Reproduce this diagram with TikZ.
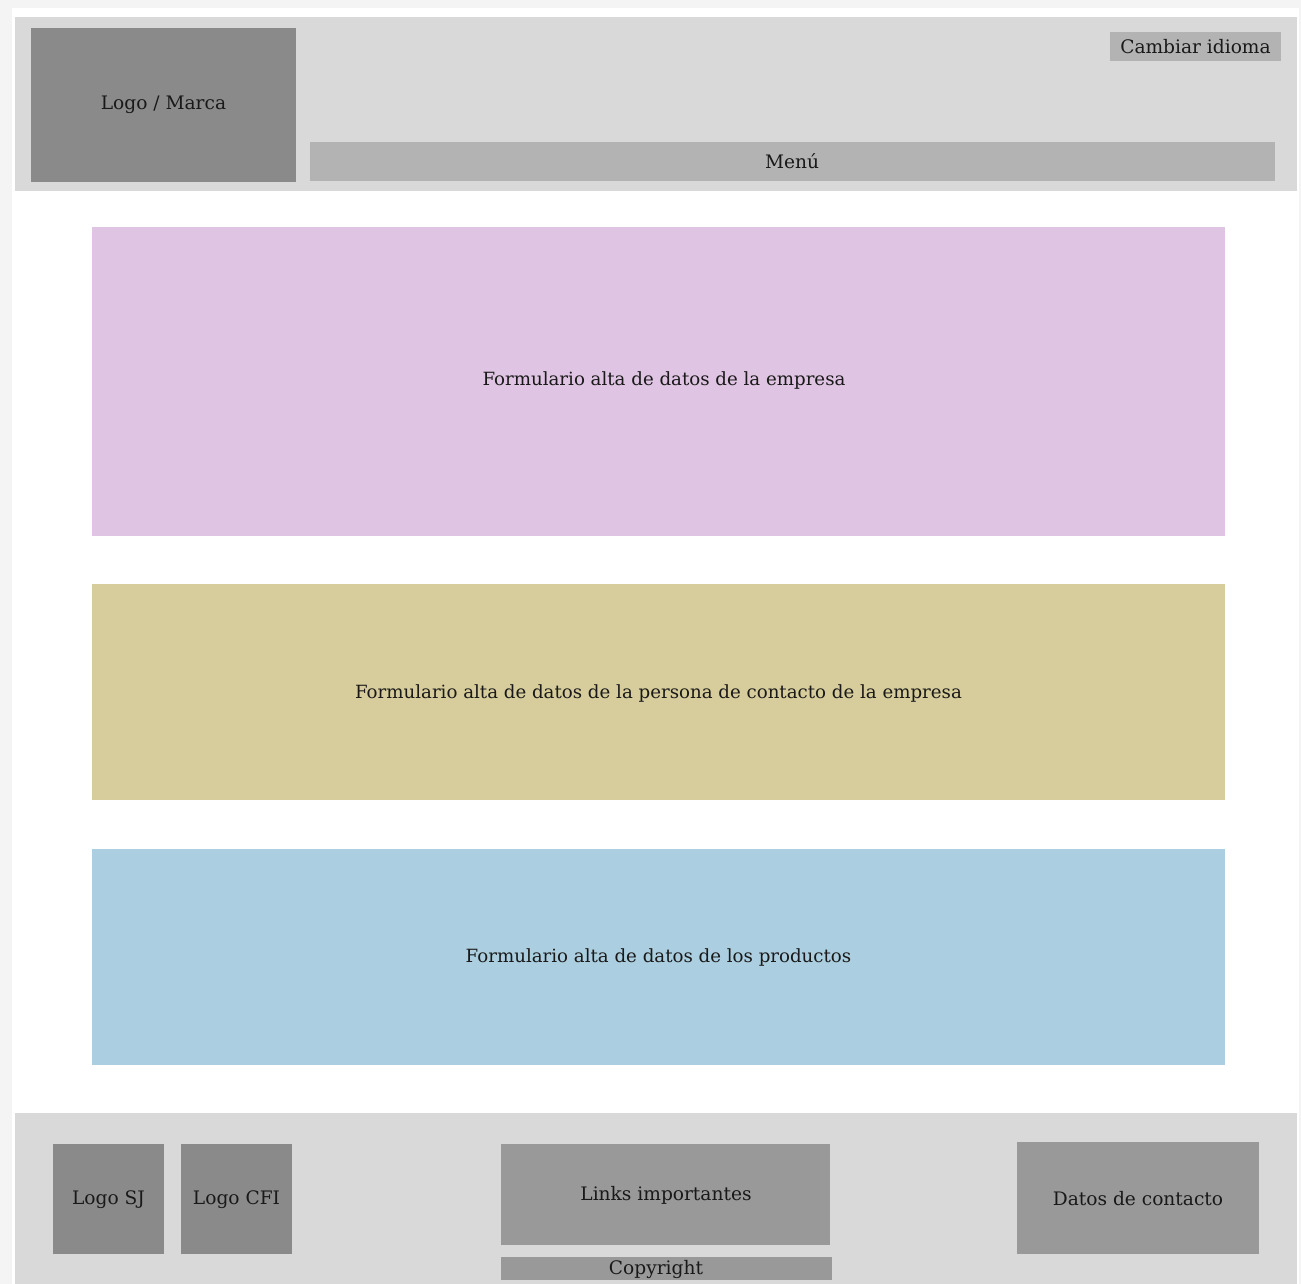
\documentclass[tikz,border=0pt]{standalone}
\usepackage{fontspec}
\setmainfont{DejaVu Serif}
\begin{document}
\begin{tikzpicture}[x=1pt,y=-1pt,
  txt/.style={font=\fontsize{18.2}{21}\selectfont,text=black!90,inner sep=0pt},
  stxt/.style={font=\fontsize{18.6}{21}\selectfont,text=black!90,inner sep=0pt}]
\definecolor{pagebg}{HTML}{F4F4F4}
\definecolor{band}{HTML}{D9D9D9}
\definecolor{dark}{HTML}{8A8A8A}
\definecolor{mid}{HTML}{999999}
\definecolor{light}{HTML}{B3B3B3}
\definecolor{pink}{HTML}{E0C4E3}
\definecolor{tan}{HTML}{D7CD9C}
\definecolor{blue}{HTML}{ABCFE0}
\useasboundingbox (0,0) rectangle (1301,1284);
\fill[pagebg] (0,0) rectangle (1301,1284);
\fill[white] (12,8) rectangle (1299,1284);
% header
\fill[band] (15,17) rectangle (1297,191);
\fill[dark] (31,28) rectangle (296,182);
\node[stxt] (logo) at (163.5,105) {Logo / Marca};
\fill[light] (310,142) rectangle (1275,181);
\node[stxt] (menu) at (792,161.5) {Menú};
\fill[light] (1110,32) rectangle (1281,61);
\node[stxt] (idioma) at (1195.5,47) {Cambiar idioma};
% content
\fill[pink] (92,227) rectangle (1225,536);
\node[txt] (f1) at (664,380) {Formulario alta de datos de la empresa};
\fill[tan] (92,584) rectangle (1225,800);
\node[txt] (f2) at (658.5,693) {Formulario alta de datos de la persona de contacto de la empresa};
\fill[blue] (92,849) rectangle (1225,1065);
\node[txt] (f3) at (658.5,957) {Formulario alta de datos de los productos};
% footer
\fill[band] (15,1113) rectangle (1297,1284);
\fill[dark] (53,1144) rectangle (164,1254);
\node[stxt] (sj) at (108.5,1200) {Logo SJ};
\fill[dark] (181,1144) rectangle (292,1254);
\node[stxt] (cfi) at (236.5,1200) {Logo CFI};
\fill[mid] (501,1144) rectangle (830,1245);
\node[stxt] (links) at (666,1195) {Links importantes};
\fill[mid] (501,1257) rectangle (832,1280);
\node[stxt] (copy) at (656,1269) {Copyright};
\fill[mid] (1017,1142) rectangle (1259,1254);
\node[stxt] (datos) at (1138,1199) {Datos de contacto};
\end{tikzpicture}
\end{document}
